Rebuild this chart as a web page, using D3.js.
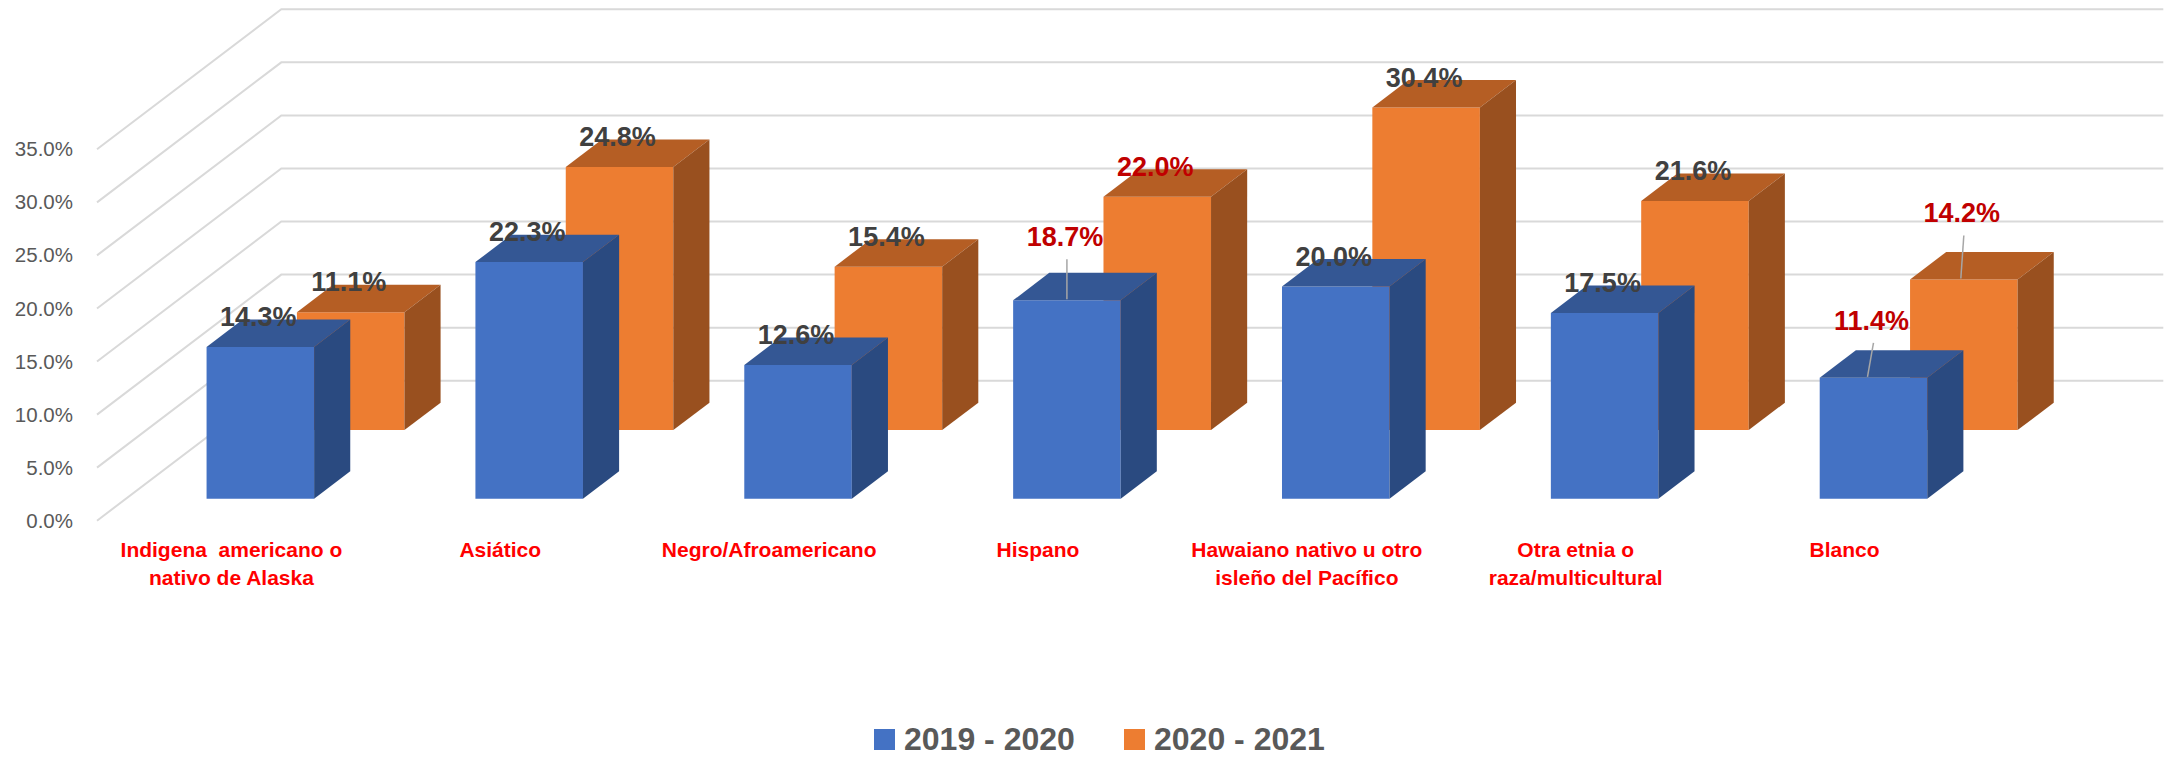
<!DOCTYPE html>
<html>
<head>
<meta charset="utf-8">
<script src="https://cdn.jsdelivr.net/npm/d3@7"></script>
<style>
  html, body { margin: 0; padding: 0; background: #fff; }
  svg { display: block; font-family: "Liberation Sans", Arial, sans-serif; }
  .cat-label { white-space: pre; }
</style>
</head>
<body>
<div id="chart"></div>
<script>
// Tasa por grupo étnico, 3D column chart (series in depth)

const categories = [
  'Indigena  americano o\nnativo de Alaska',
  'Asiático',
  'Negro/Afroamericano',
  'Hispano',
  'Hawaiano nativo u otro\nisleño del Pacífico',
  'Otra etnia o\nraza/multicultural',
  'Blanco'
]
const seriesNames = ['2019 - 2020', '2020 - 2021']
const values2019 = [14.3, 22.3, 12.6, 18.7, 20.0, 17.5, 11.4]
const values2020 = [11.1, 24.8, 15.4, 22.0, 30.4, 21.6, 14.2]
const yTicks = [0, 5, 10, 15, 20, 25, 30, 35]

// categories whose data labels are shown in red
const highlightCats = ['Hispano', 'Blanco']

// labels that were dragged up with a leader line
const leaders = [
  { cat: 'Hispano', series: 0, lift: 33, slant: 0 },
  { cat: 'Blanco', series: 0, lift: 27, slant: 6 },
  { cat: 'Blanco', series: 1, lift: 36, slant: 3 }
]

const colors = [
  { front: '#4472C4', top: '#345794', side: '#2A4A80' },
  { front: '#ED7D31', top: '#B55E24', side: '#99501F' }
]

const width = 2168
const height = 758

// depth vector of the whole floor (front -> back wall)
const depth = { dx: 184.3, dy: -140 }

const svg = d3.select('#chart')
  .append('svg')
  .attr('width', width)
  .attr('height', height)

svg.append('rect')
  .attr('width', width)
  .attr('height', height)
  .attr('fill', '#fff')

const xScale = d3.scaleBand()
  .domain(categories)
  .range([97, 1979])
  .paddingInner(0.6)
  .paddingOuter(0.3)

// value -> y on the front plane
const yScale = d3.scaleLinear()
  .domain([0, 35])
  .range([520.7, 149.3])

// series placed along the depth axis (0 = front, 1 = back wall)
const zScale = d3.scaleBand()
  .domain(seriesNames)
  .range([0, 1])
  .paddingInner(0.6)
  .paddingOuter(0.32)

const project = (x, z, v) => [x + z * depth.dx, yScale(v) + z * depth.dy]
const pts = arr => arr.map(p => p.join(',')).join(' ')

// Gridlines: side wall + back wall
const [x0, x1] = xScale.range()
const grid = svg.append('g').classed('grid', true)
yTicks.forEach(t => {
  grid.append('polyline')
    .attr('points', pts([project(x0, 0, t), project(x0, 1, t), project(x1, 1, t)]))
    .attr('fill', 'none')
    .attr('stroke', '#D9D9D9')
    .attr('stroke-width', 2)
})

// Y axis labels
const yAxis = svg.append('g')
  .attr('transform', 'translate(73,0)')
  .call(d3.axisLeft(yScale).tickValues(yTicks).tickSize(0).tickPadding(0)
    .tickFormat(d => `${d.toFixed(1)}%`))
yAxis.select('.domain').remove()
yAxis.selectAll('text')
  .attr('font-family', '"Liberation Sans", Arial, sans-serif')
  .attr('font-size', '20.5px')
  .attr('fill', '#595959')

// Bars, back row first
const seriesValues = [values2019, values2020]
const bars = []
seriesNames.forEach((s, si) => {
  categories.forEach((c, ci) => bars.push({ cat: c, series: si, value: seriesValues[si][ci] }))
})
bars.sort((a, b) => b.series - a.series)

const bw = xScale.bandwidth()
const zw = zScale.bandwidth()
const barG = svg.append('g').classed('bars', true)

bars.forEach(d => {
  const xl = xScale(d.cat)
  const xr = xl + bw
  const z0 = zScale(seriesNames[d.series])
  const z1 = z0 + zw
  const col = colors[d.series]
  const g = barG.append('g')

  g.append('polygon')
    .attr('points', pts([project(xl, z0, 0), project(xr, z0, 0), project(xr, z0, d.value), project(xl, z0, d.value)]))
    .attr('fill', col.front)
  g.append('polygon')
    .attr('points', pts([project(xl, z0, d.value), project(xr, z0, d.value), project(xr, z1, d.value), project(xl, z1, d.value)]))
    .attr('fill', col.top)
  g.append('polygon')
    .attr('points', pts([project(xr, z0, 0), project(xr, z1, 0), project(xr, z1, d.value), project(xr, z0, d.value)]))
    .attr('fill', col.side)
})

// Data labels
const labelG = svg.append('g').classed('data-labels', true)
bars.forEach(d => {
  const z0 = zScale(seriesNames[d.series])
  const [cx, topY] = project(xScale(d.cat) + bw / 2, z0, d.value)
  const lead = leaders.find(l => l.cat === d.cat && l.series === d.series)
  const baseY = topY - 21 - (lead ? lead.lift : 0)
  const red = highlightCats.includes(d.cat)

  if (lead) {
    labelG.append('line')
      .attr('x1', cx).attr('y1', baseY + 13)
      .attr('x2', cx - lead.slant).attr('y2', topY - 1)
      .attr('stroke', '#A6A6A6')
      .attr('stroke-width', 1.5)
  }

  labelG.append('text')
    .attr('x', cx - 2)
    .attr('y', baseY)
    .attr('text-anchor', 'middle')
    .attr('font-size', '27px')
    .attr('font-weight', 'bold')
    .attr('fill', red ? '#C00000' : '#404040')
    .text(`${d.value.toFixed(1)}%`)
})

// Category labels at the front edge of the floor
const catG = svg.append('g').classed('categories', true)
categories.forEach(c => {
  const cx = xScale(c) + bw / 2
  const t = catG.append('text')
    .classed('cat-label', true)
    .attr('text-anchor', 'middle')
    .attr('font-size', '21px')
    .attr('font-weight', 'bold')
    .attr('fill', '#FF0000')
  c.split('\n').forEach((line, i) => {
    t.append('tspan')
      .attr('x', cx)
      .attr('y', 557 + i * 28)
      .text(line)
  })
})

// Legend
const legend = svg.append('g').classed('legend', true)
seriesNames.forEach((s, i) => {
  const lx = 874 + i * 250
  legend.append('rect')
    .attr('x', lx)
    .attr('y', 729)
    .attr('width', 21)
    .attr('height', 21)
    .attr('fill', colors[i].front)
  legend.append('text')
    .attr('x', lx + 30)
    .attr('y', 750)
    .attr('font-size', '32px')
    .attr('font-weight', 'bold')
    .attr('fill', '#595959')
    .text(s)
})
</script>
</body>
</html>
